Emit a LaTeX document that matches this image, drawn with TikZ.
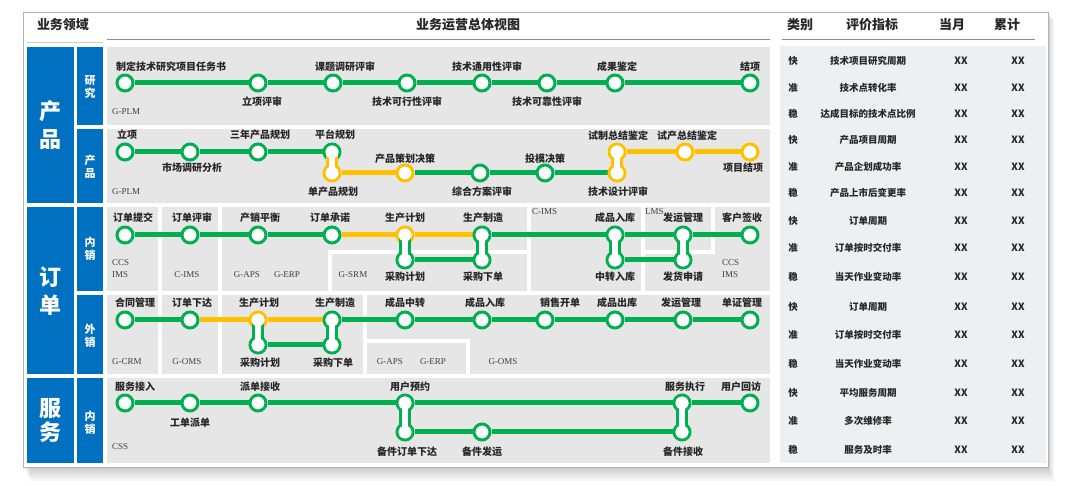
\documentclass[tikz,border=0pt]{standalone}
\usepackage{fontspec}
\setmainfont{Noto Sans CJK SC}
\newfontfamily\sysfont{Liberation Serif}
\definecolor{mgreen}{HTML}{00B050}
\definecolor{myellow}{HTML}{FFC000}
\definecolor{mblue}{HTML}{0070C0}
\definecolor{cellgray}{HTML}{E6E6E6}
\definecolor{tabgray}{HTML}{EEEFF1}
\definecolor{txt}{HTML}{262626}
\pgfdeclarelayer{back}
\pgfdeclarelayer{bg}
\pgfdeclarelayer{routes}
\pgfsetlayers{back,bg,routes,main}
\newcommand\capsule[3]{%
  \draw[#1, line width=12pt] (#2.center) -- (#3.center);
  \fill[white] (#2.center) circle (6.5pt) (#3.center) circle (6.5pt);
  \draw[white, line width=6pt] (#2.center) -- (#3.center);}
\begin{document}
\begin{tikzpicture}[x=1pt,y=-1pt,
  stn/.style={circle, draw=#1, line width=3pt, fill=white, minimum size=16pt, inner sep=0pt},
  route/.style={draw=#1, line width=5pt},
  lab/.style={font=\bfseries\fontsize{10}{11}\selectfont, text=txt, inner sep=0pt},
  sys/.style={font=\sysfont\fontsize{9}{12}\selectfont, text=black!75, inner sep=0pt, align=left},
  big/.style={font=\bfseries\fontsize{22}{28}\selectfont, text=white, align=center, inner sep=0pt},
  sub/.style={font=\bfseries\fontsize{11}{13.5}\selectfont, text=white, align=center, inner sep=0pt},
  hdr/.style={font=\bfseries\fontsize{13}{15}\selectfont, text=txt, inner sep=0pt},
  tb/.style={font=\bfseries\fontsize{9.5}{11}\selectfont, text=txt, inner sep=0pt},
  xx/.style={font=\bfseries\fontsize{10}{11}\selectfont, text=txt, inner sep=0pt},
  gap/.style={draw=white, line width=4pt},
]
\useasboundingbox (0,0) rectangle (1080,486);
\begin{pgfonlayer}{back}
% shadow and panel
\foreach \k in {1,...,7}
  \fill[black, opacity=0.03] (23+\k,12+\k) rectangle (1048+\k*0.8,467+\k*2);
\filldraw[fill=white, draw=black!30, line width=0.8pt] (23,12) rectangle (1048,467);
\end{pgfonlayer}

% header
\node[hdr] (h1) at (63,25) {业务领域};
\node[hdr] (h2) at (468,25) {业务运营总体视图};
\node[hdr] (h3) at (800,25) {类别};
\node[hdr] (h4) at (872,25) {评价指标};
\node[hdr] (h5) at (952,25) {当月};
\node[hdr] (h6) at (1007,25) {累计};
\draw[black!45, line width=1pt] (107,40) -- (770,40);
\draw[black!45, line width=1pt] (782,40) -- (1035,40);
\draw[black!20, line width=0.8pt] (27,42) -- (103,42);

\begin{pgfonlayer}{bg}
% left blue column
\fill[mblue] (27,47) rectangle (74,203);
\fill[mblue] (27,207) rectangle (74,374);
\fill[mblue] (27,378) rectangle (74,463);
\fill[mblue] (77,47) rectangle (103,125);
\fill[mblue] (77,129) rectangle (103,203);
\fill[mblue] (77,207) rectangle (103,291);
\fill[mblue] (77,295) rectangle (103,374);
\fill[mblue] (77,378) rectangle (103,463);
% gray rows
\fill[cellgray] (107,47) rectangle (770,125);
\fill[cellgray] (107,129) rectangle (770,203);
\fill[cellgray] (107,207) rectangle (770,291);
\fill[cellgray] (107,295) rectangle (770,374);
\fill[cellgray] (107,378) rectangle (770,463);
% cell gaps row 3
\draw[gap] (159.5,207) -- (159.5,291);
\draw[gap] (219.5,207) -- (219.5,291);
\draw[gap] (330,293) -- (330,252) -- (529,252);
\draw[gap] (529,205) -- (529,293);
\draw[gap] (642.5,205) -- (642.5,293);
\draw[gap] (712.5,205) -- (712.5,252) -- (642.5,252);
% cell gaps row 4
\draw[gap] (159.5,295) -- (159.5,374);
\draw[gap] (219.5,295) -- (219.5,374);
\draw[gap] (365,293) -- (365,376);
\draw[gap] (365,341) -- (468,341) -- (468,376);
% table background
\fill[tabgray] (780,46) rectangle (1046,463);
\end{pgfonlayer}

% left labels
\node[big] (b1) at (50.5,125) {产\\品};
\node[big] (b2) at (50.5,291) {订\\单};
\node[big, font=\bfseries\fontsize{22}{24}\selectfont] (b3) at (50.5,421) {服\\务};
\node[sub] (s1) at (90,87) {研\\究};
\node[sub] (s2) at (90,167) {产\\品};
\node[sub] (s3) at (90,249) {内\\销};
\node[sub] (s4) at (90,336) {外\\销};
\node[sub] (s5) at (90,423) {内\\销};

% ===== Row 1 =====
\node[stn=mgreen] (r1a) at (125,83) {};
\node[stn=mgreen] (r1b) at (258,83) {};
\node[stn=mgreen] (r1c) at (333,83) {};
\node[stn=mgreen] (r1d) at (407,83) {};
\node[stn=mgreen] (r1e) at (482,83) {};
\node[stn=mgreen] (r1f) at (547,83) {};
\node[stn=mgreen] (r1g) at (615,83) {};
\node[stn=mgreen] (r1h) at (750,83) {};
\begin{pgfonlayer}{routes}
\draw[route=mgreen] (r1a) -- (r1b) -- (r1c) -- (r1d) -- (r1e) -- (r1f) -- (r1g) -- (r1h);
\end{pgfonlayer}
\node[lab, anchor=west] (l1a) at (116,67) {制定技术研究项目任务书};
\node[lab] (l1b) at (262,102) {立项评审};
\node[lab] (l1c) at (345,67) {课题调研评审};
\node[lab] (l1d) at (407,102) {技术可行性评审};
\node[lab] (l1e) at (487,67) {技术通用性评审};
\node[lab] (l1f) at (547,102) {技术可靠性评审};
\node[lab] (l1g) at (617,67) {成果鉴定};
\node[lab] (l1h) at (750,67) {结项};
\node[sys, anchor=west] (y1a) at (112,112) {G-PLM};

% ===== Row 2 =====
\node[stn=mgreen] (r2a) at (125,152) {};
\node[stn=mgreen] (r2b) at (190,152) {};
\node[stn=mgreen] (r2c) at (258,152) {};
\node[stn=mgreen] (r2d) at (332,152) {};
\node[stn=myellow] (r2e) at (332,173) {};
\node[stn=myellow] (r2f) at (405,173) {};
\node[stn=mgreen] (r2g) at (480,173) {};
\node[stn=mgreen] (r2h) at (545,173) {};
\node[stn=myellow] (r2i) at (617,173) {};
\node[stn=myellow] (r2j) at (617,152) {};
\node[stn=myellow] (r2k) at (685,152) {};
\node[stn=myellow] (r2l) at (750,152) {};
\begin{pgfonlayer}{routes}
\draw[route=mgreen] (r2a) -- (r2b) -- (r2c) -- (r2d);
\draw[route=myellow] (r2e) -- (r2f);
\draw[route=mgreen] (r2f) -- (r2g) -- (r2h) -- (r2i);
\draw[route=myellow] (r2j) -- (r2k) -- (r2l);
\end{pgfonlayer}
\capsule{myellow}{r2d}{r2e}
\capsule{myellow}{r2i}{r2j}
\node[lab, anchor=west] (l2a) at (117,135) {立项};
\node[lab] (l2b) at (192,168) {市场调研分析};
\node[lab] (l2c) at (260,135) {三年产品规划};
\node[lab] (l2d) at (335,135) {平台规划};
\node[lab] (l2e) at (333,192) {单产品规划};
\node[lab] (l2f) at (405,159) {产品策划决策};
\node[lab] (l2g) at (482,192) {综合方案评审};
\node[lab] (l2h) at (545,159) {投模决策};
\node[lab] (l2i) at (618,192) {技术设计评审};
\node[lab] (l2j) at (618,136) {试制总结鉴定};
\node[lab] (l2k) at (687,136) {试产总结鉴定};
\node[lab] (l2l) at (743,168) {项目结项};
\node[sys, anchor=west] (y2a) at (112,192) {G-PLM};

% ===== Row 3 =====
\node[stn=mgreen] (r3a) at (125,235) {};
\node[stn=mgreen] (r3b) at (190,235) {};
\node[stn=mgreen] (r3c) at (258,235) {};
\node[stn=mgreen] (r3d) at (332,235) {};
\node[stn=myellow] (r3e) at (405,235) {};
\node[stn=mgreen] (r3f) at (405,260) {};
\node[stn=mgreen] (r3g) at (482,235) {};
\node[stn=mgreen] (r3h) at (482,260) {};
\node[stn=mgreen] (r3i) at (615,235) {};
\node[stn=mgreen] (r3j) at (615,260) {};
\node[stn=mgreen] (r3k) at (683,235) {};
\node[stn=mgreen] (r3l) at (683,260) {};
\node[stn=mgreen] (r3m) at (750,235) {};
\begin{pgfonlayer}{routes}
\draw[route=mgreen] (r3a) -- (r3b) -- (r3c) -- (r3d);
\draw[route=myellow] (r3d) -- (r3e) -- (r3g);
\draw[route=mgreen] (r3g) -- (r3i) -- (r3k) -- (r3m);
\draw[route=mgreen] (r3f) -- (r3h);
\draw[route=mgreen] (r3j) -- (r3l);
\end{pgfonlayer}
\capsule{mgreen}{r3e}{r3f}
\capsule{mgreen}{r3g}{r3h}
\capsule{mgreen}{r3i}{r3j}
\capsule{mgreen}{r3k}{r3l}
\node[lab] (l3a) at (133,218) {订单提交};
\node[lab] (l3b) at (192,218) {订单评审};
\node[lab] (l3c) at (260,218) {产销平衡};
\node[lab] (l3d) at (330,218) {订单承诺};
\node[lab] (l3e) at (405,218) {生产计划};
\node[lab] (l3f) at (405,277) {采购计划};
\node[lab] (l3g) at (483,218) {生产制造};
\node[lab] (l3h) at (483,277) {采购下单};
\node[lab] (l3i) at (615,218) {成品入库};
\node[lab] (l3j) at (615,277) {中转入库};
\node[lab] (l3k) at (683,218) {发运管理};
\node[lab] (l3l) at (683,277) {发货申请};
\node[lab] (l3m) at (742,218) {客户签收};
\node[sys, anchor=west] (y3a) at (112,269) {CCS\\IMS};
\node[sys] (y3b) at (187,275) {C-IMS};
\node[sys] (y3c) at (247,275) {G-APS};
\node[sys] (y3d) at (287,275) {G-ERP};
\node[sys] (y3e) at (353,275) {G-SRM};
\node[sys, anchor=west] (y3f) at (532,212) {C-IMS};
\node[sys, anchor=west] (y3g) at (645,212) {LMS};
\node[sys, anchor=west] (y3h) at (722,269) {CCS\\IMS};

% ===== Row 4 =====
\node[stn=mgreen] (r4a) at (125,320) {};
\node[stn=mgreen] (r4b) at (190,320) {};
\node[stn=myellow] (r4c) at (258,320) {};
\node[stn=mgreen] (r4d) at (258,345) {};
\node[stn=mgreen] (r4e) at (332,320) {};
\node[stn=mgreen] (r4f) at (332,345) {};
\node[stn=mgreen] (r4g) at (405,320) {};
\node[stn=mgreen] (r4h) at (482,320) {};
\node[stn=mgreen] (r4i) at (545,320) {};
\node[stn=mgreen] (r4j) at (615,320) {};
\node[stn=mgreen] (r4k) at (683,320) {};
\node[stn=mgreen] (r4l) at (750,320) {};
\begin{pgfonlayer}{routes}
\draw[route=mgreen] (r4a) -- (r4b);
\draw[route=myellow] (r4b) -- (r4c) -- (r4e);
\draw[route=mgreen] (r4e) -- (r4g) -- (r4h) -- (r4i) -- (r4j) -- (r4k) -- (r4l);
\draw[route=mgreen] (r4d) -- (r4f);
\end{pgfonlayer}
\capsule{mgreen}{r4c}{r4d}
\capsule{mgreen}{r4e}{r4f}
\node[lab] (l4a) at (135,303) {合同管理};
\node[lab] (l4b) at (192,303) {订单下达};
\node[lab] (l4c) at (259,303) {生产计划};
\node[lab] (l4d) at (260,363) {采购计划};
\node[lab] (l4e) at (335,303) {生产制造};
\node[lab] (l4f) at (333,363) {采购下单};
\node[lab] (l4g) at (405,303) {成品中转};
\node[lab] (l4h) at (485,303) {成品入库};
\node[lab] (l4i) at (560,303) {销售开单};
\node[lab] (l4j) at (617,303) {成品出库};
\node[lab] (l4k) at (681,303) {发运管理};
\node[lab] (l4l) at (742,303) {单证管理};
\node[sys, anchor=west] (y4a) at (112,362) {G-CRM};
\node[sys] (y4b) at (187,362) {G-OMS};
\node[sys] (y4c) at (390,362) {G-APS};
\node[sys] (y4d) at (433,362) {G-ERP};
\node[sys] (y4e) at (503,362) {G-OMS};

% ===== Row 5 =====
\node[stn=mgreen] (r5a) at (125,403) {};
\node[stn=mgreen] (r5b) at (190,403) {};
\node[stn=mgreen] (r5c) at (258,403) {};
\node[stn=mgreen] (r5d) at (405,403) {};
\node[stn=mgreen] (r5e) at (405,432) {};
\node[stn=mgreen] (r5f) at (482,432) {};
\node[stn=mgreen] (r5g) at (682,403) {};
\node[stn=mgreen] (r5h) at (682,432) {};
\node[stn=mgreen] (r5i) at (750,403) {};
\begin{pgfonlayer}{routes}
\draw[route=mgreen] (r5a) -- (r5b) -- (r5c) -- (r5d) -- (r5g) -- (r5i);
\draw[route=mgreen] (r5e) -- (r5f) -- (r5h);
\end{pgfonlayer}
\capsule{mgreen}{r5d}{r5e}
\capsule{mgreen}{r5g}{r5h}
\node[lab] (l5a) at (135,387) {服务接入};
\node[lab] (l5b) at (190,423) {工单派单};
\node[lab] (l5c) at (260,387) {派单接收};
\node[lab] (l5d) at (410,387) {用户预约};
\node[lab] (l5e) at (407,452) {备件订单下达};
\node[lab] (l5f) at (482,452) {备件发运};
\node[lab] (l5g) at (685,387) {服务执行};
\node[lab] (l5h) at (741,387) {用户回访};
\node[lab] (l5i) at (683,452) {备件接收};
\node[sys, anchor=west] (y5a) at (112,447) {CSS};

% ===== Table =====
\foreach \i/\y/\c/\m in {
  1/61/快/技术项目研究周期, 2/88/准/技术点转化率, 3/114/稳/达成目标的技术点比例,
  4/140/快/产品项目周期, 5/167/准/产品企划成功率, 6/193/稳/产品上市后变更率,
  7/221/快/订单周期, 8/248/准/订单按时交付率, 9/277/稳/当天作业变动率,
  10/307/快/订单周期, 11/335/准/订单按时交付率, 12/364/稳/当天作业变动率,
  13/393/快/平均服务周期, 14/421/准/多次维修率, 15/450/稳/服务及时率}{
  \node[tb] (tc\i) at (793,\y) {\c};
  \node[tb] (tm\i) at (868,\y) {\m};
  \node[xx] (tx\i) at (961,\y) {XX};
  \node[xx] (ty\i) at (1018,\y) {XX};
}
\end{tikzpicture}
\end{document}
